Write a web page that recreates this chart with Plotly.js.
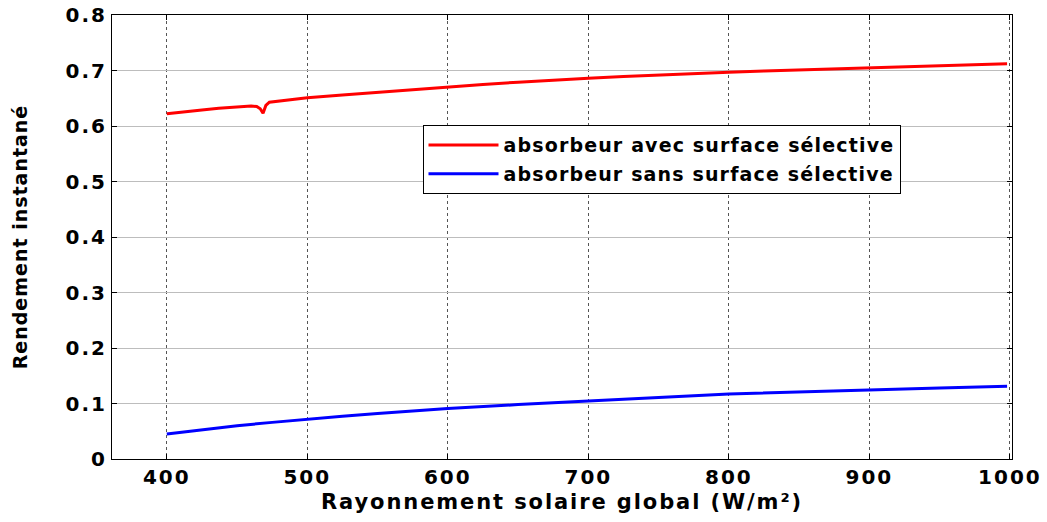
<!DOCTYPE html>
<html><head><meta charset="utf-8">
<script src="https://cdn.plot.ly/plotly-3.0.1.min.js"></script>
<style>
html,body{margin:0;padding:0;background:#fff;}
#chart{width:1047px;height:522px;}
.xtick text, .ytick text {letter-spacing:2px;}
.legendtext{letter-spacing:1.15px;}
.g-xtitle text{letter-spacing:1.9px;}
.g-ytitle text{letter-spacing:1px;}
</style></head>
<body><div id="chart"></div>
<script>
const seriesNames = ["absorbeur avec surface sélective", "absorbeur sans surface sélective"];
const redX = [400, 412, 425, 437, 450, 460, 464, 466.5, 468.5, 470.5, 473, 480, 490, 500, 525, 550, 575, 600, 625, 650, 675, 700, 725, 750, 775, 800, 825, 850, 875, 900, 925, 950, 975, 998];
const redY = [0.622, 0.626, 0.629, 0.632, 0.635, 0.636, 0.635, 0.631, 0.623, 0.637, 0.643, 0.645, 0.648, 0.651, 0.656, 0.661, 0.666, 0.671, 0.675, 0.679, 0.683, 0.686, 0.689, 0.692, 0.695, 0.697, 0.699, 0.701, 0.703, 0.705, 0.707, 0.709, 0.710, 0.712];
const blueX = [400, 425, 450, 475, 500, 525, 550, 575, 600, 650, 700, 750, 800, 850, 900, 950, 998];
const blueY = [0.045, 0.053, 0.060, 0.066, 0.072, 0.077, 0.082, 0.087, 0.091, 0.098, 0.105, 0.111, 0.117, 0.121, 0.125, 0.128, 0.131];
const xTicks = [400, 500, 600, 700, 800, 900, 1000];
const yTicks = [0, 0.1, 0.2, 0.3, 0.4, 0.5, 0.6, 0.7, 0.8];
const yTickText = ["0", "0.1", "0.2", "0.3", "0.4", "0.5", "0.6", "0.7", "0.8"];

const FONT = "DejaVu Sans, Arial, sans-serif";
const traces = [
  {x: redX, y: redY, mode: "lines", name: seriesNames[0], legendgroup: "a",
   line: {color: "#ff0000", width: 3}},
  {x: blueX, y: blueY, mode: "lines", name: seriesNames[1], legendgroup: "b",
   line: {color: "#0000ff", width: 3}}
];
const layout = {
  width: 1047, height: 522,
  margin: {l: 112, r: 35, t: 15, b: 63},
  paper_bgcolor: "#fff", plot_bgcolor: "#fff",
  font: {family: FONT, color: "#000", size: 20, weight: "bold"},
  showlegend: true,
  legend: {x: 0.345, y: 0.752, xanchor: "left", yanchor: "top",
    bgcolor: "#fff", bordercolor: "#000", borderwidth: 1,
    font: {family: FONT, size: 19, weight: "bold", color: "#000"},
    itemwidth: 70, tracegroupgap: 1},
  xaxis: {range: [361, 1001.5], tickvals: xTicks, ticktext: xTicks.map(String),
    showline: true, linecolor: "#000", linewidth: 1, mirror: "ticks",
    ticks: "inside", ticklen: 5, tickcolor: "#000",
    showgrid: true, gridcolor: "#555", griddash: "dot", gridwidth: 1,
    zeroline: false, tickfont: {family: FONT, size: 20, weight: "bold"},
    title: {text: "Rayonnement solaire global (W/m²)", font: {family: FONT, size: 21, weight: "bold"}, standoff: 6}},
  yaxis: {range: [0, 0.8], tickvals: yTicks, ticktext: yTickText,
    showline: true, linecolor: "#000", linewidth: 1, mirror: "ticks",
    ticks: "inside", ticklen: 5, tickcolor: "#000",
    showgrid: true, gridcolor: "#bdbdbd", gridwidth: 1,
    zeroline: false, tickfont: {family: FONT, size: 20, weight: "bold"},
    title: {text: "Rendement instantané", font: {family: FONT, size: 19, weight: "bold"}, standoff: 32}}
};
Plotly.newPlot("chart", traces, layout, {displayModeBar: false, staticPlot: true});
</script>
</body></html>
